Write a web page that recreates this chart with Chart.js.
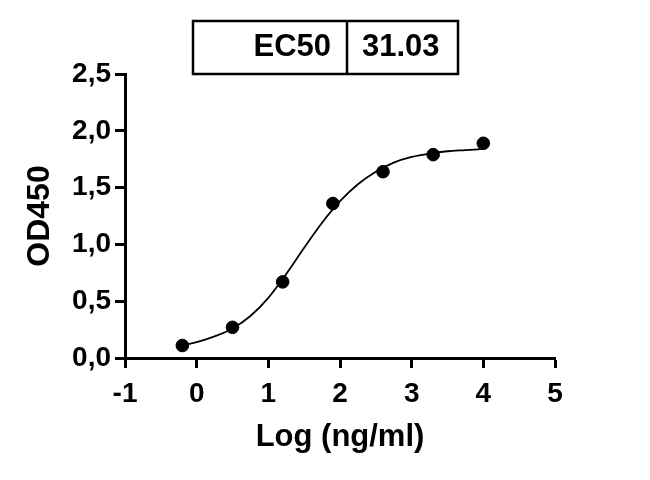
<!DOCTYPE html>
<html>
<head>
<meta charset="utf-8">
<script src="https://cdn.jsdelivr.net/npm/chart.js@4"></script>
<style>
  html, body { margin: 0; padding: 0; background: #fff; }
  #wrap { width: 650px; height: 480px; }
</style>
</head>
<body>
<div id="wrap"><canvas id="chart" width="650" height="480"></canvas></div>
<script>
// measured points (log conc vs OD450)
const logConc = [-0.2, 0.5, 1.2, 1.9, 2.6, 3.3, 4.0];
const od450 = [0.11, 0.27, 0.67, 1.36, 1.64, 1.79, 1.89];

// fitted curve
const fitX = [-0.2, 0, 0.25, 0.5, 0.75, 1.0, 1.25, 1.5, 1.75, 2.0, 2.25, 2.5, 2.75, 3.0, 3.25, 3.5, 3.75, 4.0];
const fitY = [0.11, 0.14, 0.19, 0.26, 0.37, 0.53, 0.74, 0.97, 1.19, 1.38, 1.53, 1.64, 1.72, 1.77, 1.80, 1.82, 1.83, 1.84];

const ecLabel = 'EC50';
const ecValue = '31.03';

const xTicks = [-1, 0, 1, 2, 3, 4, 5];
const yTicks = [0, 0.5, 1.0, 1.5, 2.0, 2.5];

const FONT = '"Liberation Sans", Arial, Helvetica, sans-serif';

// little EC50 table above the plot
const ecBox = {
    id: 'ecBox',
    afterDraw(chart) {
        const ctx = chart.ctx;
        ctx.save();
        ctx.strokeStyle = '#000';
        ctx.lineWidth = 2.5;
        ctx.strokeRect(193, 21, 265, 53);
        ctx.beginPath();
        ctx.moveTo(347, 21);
        ctx.lineTo(347, 74);
        ctx.stroke();
        ctx.fillStyle = '#000';
        ctx.font = 'bold 31px ' + FONT;
        ctx.textBaseline = 'middle';
        ctx.textAlign = 'right';
        ctx.fillText(ecLabel, 331, 47);
        ctx.textAlign = 'left';
        ctx.fillText(ecValue, 362, 47);
        ctx.restore();
    }
};

const bg = {
    id: 'bg',
    beforeDraw(chart) {
        const ctx = chart.ctx;
        ctx.save();
        ctx.fillStyle = '#fff';
        ctx.fillRect(0, 0, chart.width, chart.height);
        ctx.restore();
    }
};

const ctx = document.getElementById('chart').getContext('2d');
const chart = new Chart(ctx, {
    type: 'scatter',
    data: {
        datasets: [
            {
                label: 'fit',
                data: fitX.map((x, i) => ({ x: x, y: fitY[i] })),
                showLine: true,
                borderColor: '#000',
                borderWidth: 1.8,
                pointRadius: 0,
                cubicInterpolationMode: 'monotone',
                fill: false
            },
            {
                label: 'OD450',
                data: logConc.map((x, i) => ({ x: x, y: od450[i] })),
                backgroundColor: '#000',
                borderColor: '#000',
                pointRadius: 6.3,
                pointHoverRadius: 6.3
            }
        ]
    },
    options: {
        responsive: false,
        animation: false,
        devicePixelRatio: 1,
        layout: { padding: { top: 74, right: 95, left: 0, bottom: 0 } },
        plugins: {
            legend: { display: false },
            tooltip: { enabled: false }
        },
        scales: {
            x: {
                type: 'linear',
                min: -1,
                max: 5,
                afterFit: s => { s.height = 122; },
                afterBuildTicks: s => { s.ticks = xTicks.map(v => ({ value: v })); },
                ticks: {
                    color: '#000',
                    font: { family: FONT, size: 28, weight: 'bold' },
                    padding: 9,
                    maxRotation: 0
                },
                grid: { drawOnChartArea: false, tickLength: 10, tickWidth: 3, tickColor: '#000' },
                border: { color: '#000', width: 3 },
                title: {
                    display: true,
                    text: 'Log (ng/ml)',
                    color: '#000',
                    font: { family: FONT, size: 31, weight: 'bold' },
                    padding: { top: 0, bottom: 24 }
                }
            },
            y: {
                type: 'linear',
                min: 0,
                max: 2.5,
                afterFit: s => { s.width = 125; },
                afterBuildTicks: s => { s.ticks = yTicks.map(v => ({ value: v })); },
                ticks: {
                    color: '#000',
                    font: { family: FONT, size: 28, weight: 'bold' },
                    padding: 4,
                    callback: v => v.toFixed(1).replace('.', ',')
                },
                grid: { drawOnChartArea: false, tickLength: 10, tickWidth: 3, tickColor: '#000' },
                border: { color: '#000', width: 3 },
                title: {
                    display: true,
                    text: 'OD450',
                    color: '#000',
                    font: { family: FONT, size: 32, weight: 'bold' },
                    padding: { top: 21, bottom: 0 }
                }
            }
        }
    },
    plugins: [bg, ecBox]
});
</script>
</body>
</html>
